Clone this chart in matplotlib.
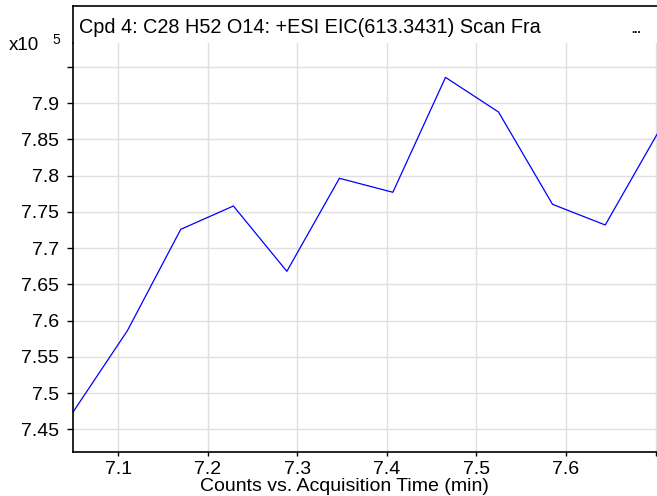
"""
Extracted ion chromatogram (EIC) trace, drawn in the style of the
instrument software export.
"""
import matplotlib
matplotlib.use('Agg')
import matplotlib.pyplot as plt
from matplotlib.ticker import FixedLocator, FuncFormatter

plt.rcParams['font.family'] = ['Liberation Sans', 'DejaVu Sans']

# retention time (min) and counts (x10^5)
times = [7.0497, 7.1101, 7.1697, 7.2285, 7.2882, 7.3469,
         7.4066, 7.4654, 7.5246, 7.5849, 7.6438, 7.7016]
counts = [7.4743, 7.5860, 7.7258, 7.7580, 7.6679, 7.7962,
          7.7769, 7.9354, 7.8876, 7.7603, 7.7318, 7.8568]

x_ticks = [7.1, 7.2, 7.3, 7.4, 7.5, 7.6, 7.7]
x_hidden = [7.7]  # at the right edge, label cut off in the export
y_ticks = [7.45, 7.5, 7.55, 7.6, 7.65, 7.7, 7.75, 7.8, 7.85, 7.9, 7.95]
y_hidden = [7.95]  # tick drawn, label left off

title = 'Cpd 4: C28 H52 O14: +ESI EIC(613.3431) Scan Fra'
x_label = 'Counts vs. Acquisition Time (min)'


def fmt(hidden):
    def f(v, p):
        if any(abs(v - h) < 1e-6 for h in hidden):
            return ''
        return '%g' % round(v, 2)
    return FuncFormatter(f)


W, H = 657, 496
fig = plt.figure(figsize=(W / 100, H / 100), dpi=100)

left, right = 73.3, 657.0
top, bottom, head_top = 43.0, 451.7, 6.0

ax = fig.add_axes([left / W, (H - bottom) / H, (right - left) / W, (bottom - top) / H])
ax.plot(times, counts, color='#0000ff', linewidth=0.9)
ax.set_xlim(7.0497, 7.7016)
ax.set_ylim(7.4191, 7.9828)

ax.xaxis.set_major_locator(FixedLocator(x_ticks))
ax.yaxis.set_major_locator(FixedLocator(y_ticks))
ax.xaxis.set_major_formatter(fmt(x_hidden))
ax.yaxis.set_major_formatter(fmt(y_hidden))

ax.grid(True, color='#e0e0e0', linewidth=1.0)
ax.set_axisbelow(True)
for s in ['top', 'right']:
    ax.spines[s].set_visible(False)
for s in ['left', 'bottom']:
    ax.spines[s].set_linewidth(1.2)
ax.tick_params(axis='y', direction='out', length=4, width=1, pad=6, labelsize=14)
ax.tick_params(axis='x', direction='out', length=3, width=1, pad=4, labelsize=14)

# header strip holding the compound title
head = fig.add_axes([left / W, (H - top) / H, (right - left) / W, (top - head_top) / H])
head.set_xticks([])
head.set_yticks([])
for s in ['bottom', 'right']:
    head.spines[s].set_visible(False)
for s in ['left', 'top']:
    head.spines[s].set_linewidth(1.2)
head.text(5.5 / (right - left), (top - 33) / (top - head_top), title,
          fontsize=14.3, va='baseline', ha='left', transform=head.transAxes)
head.text((631 - left) / (right - left), (top - 33) / (top - head_top), '...',
          fontsize=8.5, fontweight='bold', va='baseline', ha='left', transform=head.transAxes)

fig.text(9 / W, (H - 50) / H, 'x10', fontsize=13.5, va='baseline', ha='left')
fig.text(52 / W, (H - 44) / H, '5', fontsize=10, va='baseline', ha='left')
fig.text(344 / W, (H - 491) / H, x_label, fontsize=14, va='baseline', ha='center')

fig.savefig('out.png', dpi=100)
